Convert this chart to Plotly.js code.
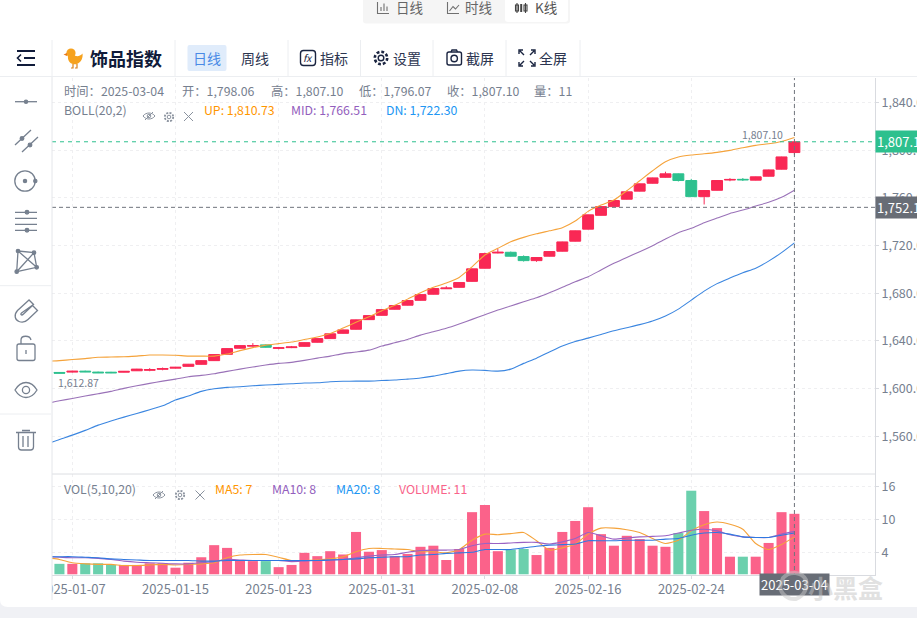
<!DOCTYPE html>
<html><head><meta charset="utf-8">
<script src="https://cdn.plot.ly/plotly-3.0.1.min.js"></script>
<style>
html,body{margin:0;padding:0;background:#fff;overflow:hidden;width:917px;height:618px}
#c{position:absolute;left:0;top:0;width:917px;height:618px}
#o{position:absolute;left:0;top:0;pointer-events:none}
#o text{font-family:"Noto Sans CJK SC","Noto Sans",sans-serif}
</style></head><body>
<div id="c"></div>
<svg id="o" width="917" height="618" viewBox="0 0 917 618" xmlns="http://www.w3.org/2000/svg">
  <!-- left toolbar background clips the first date label -->
  <rect x="0" y="77" width="52" height="531" fill="#fff"/>
  <line x1="52" y1="77" x2="52" y2="600" stroke="#e4e6ea"/>
  <!-- page bottom -->
  <path d="M0 600 Q0 607 8 607 L917 607 L917 618 L0 618 Z" fill="#f0f1f5"/>
  <!-- top switch -->
  <rect x="363" y="-4" width="207" height="27.5" rx="3" fill="#f5f5f5"/>
  <rect x="505" y="-4" width="63" height="26" rx="3" fill="#fff"/>
  <g fill="none" stroke="#707070" stroke-width="1.1">
    <path d="M377.5 2V13.5H389M381 11V7M384 11V3.5M387 11V6.5"/>
    <path d="M447.5 2V13.5H459M449.5 11L453 6.5L455.5 9L459 5"/>
    <path d="M517 3V13M525.5 3V13" stroke="#444"/><rect x="515.5" y="5" width="3" height="6" stroke="#444"/><rect x="524" y="5" width="3" height="6" stroke="#444"/>
    <path d="M521.2 4V12" stroke="#444" stroke-width="2"/>
  </g>
  <g font-size="13.5" dominant-baseline="central" fill="#666">
    <text x="396" y="7">日线</text><text x="465" y="7">时线</text><text x="535" y="7" fill="#555">K线</text>
  </g>
  <!-- main toolbar -->
  <line x1="0" y1="76.5" x2="917" y2="76.5" stroke="#eceef1"/>
  <g stroke="#eceef1"><line x1="52" y1="40" x2="52" y2="76"/><line x1="175" y1="40" x2="175" y2="76"/><line x1="288" y1="40" x2="288" y2="76"/><line x1="360.5" y1="40" x2="360.5" y2="76"/><line x1="433" y1="40" x2="433" y2="76"/><line x1="506" y1="40" x2="506" y2="76"/><line x1="580" y1="40" x2="580" y2="76"/></g>
  <g stroke="#101b3a" stroke-width="2" fill="none"><path d="M17 51H35M24 58H35M17 65H35"/><path d="M21 54.5L17.5 58L21 61.5" stroke-width="1.6"/></g>
  <!-- duck -->
  <g>
    <circle cx="71" cy="53" r="4.6" fill="#f6a21e"/>
    <path d="M67 53L63.5 54.5L67 56Z" fill="#e8791a"/>
    <path d="M68 56C67 63 74 66 78 63.5C82 61 83 57 82.5 53.5C80 56.5 76 57 74.5 55Z" fill="#f6a21e"/>
    <path d="M73 64V68H71M77 64V68H75" stroke="#d9801a" stroke-width="1.2" fill="none"/>
  </g>
  <text x="90" y="57.500" font-size="18" font-weight="700" fill="#101b3a" dominant-baseline="central">饰品指数</text>
  <rect x="187.5" y="45" width="39" height="26" rx="2" fill="#e0ecfb"/>
  <g font-size="14" dominant-baseline="central" fill="#2c3550">
    <text x="193" y="57.500" fill="#4a8ae6">日线</text><text x="241" y="57.500">周线</text>
    <text x="320" y="57.500">指标</text><text x="393" y="57.500">设置</text><text x="466" y="57.500">截屏</text><text x="539" y="57.500">全屏</text>
  </g>
  <g fill="none" stroke="#1a2440" stroke-width="1.4">
    <rect x="300.5" y="50.5" width="15" height="15" rx="3"/>
    <circle cx="381" cy="58" r="2.8"/><circle cx="381" cy="58" r="6.2" stroke-width="2.6" stroke-dasharray="2.8 2"/>
    <rect x="447" y="52" width="14.5" height="13" rx="2"/><circle cx="454.2" cy="58.5" r="3.2"/><path d="M451 52L452 50H456.5L457.5 52"/>
    <path d="M519 54V50H523M531 50H535V54M535 62V66H531M523 66H519V62M520 51L524 55M534 51L530 55M534 65L530 61M520 65L524 61"/>
  </g>
  <text x="303" y="61.5" font-size="10" font-style="italic" fill="#1a2440">fx</text>
  <!-- left tools -->
  <g fill="none" stroke="#76808f" stroke-width="1.3">
    <path d="M15 101.7H37"/><circle cx="26" cy="101.7" r="1.6" fill="#76808f"/>
    <path d="M15 145L31 130M22 152L38 137"/><circle cx="22" cy="138.5" r="1.8" fill="#76808f"/><circle cx="30" cy="145" r="1.8" fill="#76808f"/>
    <circle cx="25" cy="181" r="10.2"/><circle cx="25" cy="181" r="1.6" fill="#76808f"/><circle cx="35.3" cy="181" r="1.6" fill="#76808f"/>
    <path d="M15 212.3H37M15 218.3H37M15 224.3H37M15 230.3H37"/><circle cx="27" cy="212.3" r="1.8" fill="#76808f"/><circle cx="27" cy="230.3" r="1.8" fill="#76808f"/>
    <path d="M18 251L34 252.7L36.7 267.3L16.7 271.7ZM18 251L36.7 267.3M34 252.7L16.7 271.7"/>
    <circle cx="18" cy="251" r="1.7" fill="#76808f"/><circle cx="34" cy="252.7" r="1.7" fill="#76808f"/><circle cx="36.7" cy="267.3" r="1.7" fill="#76808f"/><circle cx="16.7" cy="271.7" r="1.7" fill="#76808f"/>
    <path d="M29 300L17.500 310.500C13.500 315 15 320 19 321.500C23 323 26 321.500 28 319.500L37.500 310.500L32.500 305.500L23.500 314C21.500 316 20 314.500 21.500 313L33.500 304.500Z"/>
    <rect x="17" y="344" width="18" height="16.5" rx="2"/><path d="M21 344V340C21 335 30 335 31 340M26 350V354"/>
    <path d="M15 390C21 380 31 380 37 390C31 400 21 400 15 390Z"/><circle cx="26" cy="390" r="3.6"/>
    <path d="M16 432.5H36M22 430.5H30M18.5 433V447C18.5 449 20 450 21.5 450H30.5C32 450 33.5 449 33.5 447V433M23 436V447M28 436V447"/>
  </g>
  <g stroke="#eceef1"><line x1="0" y1="285.7" x2="51" y2="285.7"/><line x1="0" y1="414" x2="51" y2="414"/></g>
  <!-- small legend icons -->
  <g fill="none" stroke="#8a929e" stroke-width="1">
    <g><path d="M143 116C146 112 152 112 155 116C152 120 146 120 143 116Z"/><circle cx="149" cy="116" r="1.8"/><path d="M145 120L153 112"/></g>
    <g><circle cx="169" cy="117" r="1.8"/><circle cx="169" cy="117" r="4.2" stroke-width="1.8" stroke-dasharray="2 1.3"/></g>
    <path d="M184 112L193 121M193 112L184 121"/>
    <g><path d="M153 495C156 491 162 491 165 495C162 499 156 499 153 495Z"/><circle cx="159" cy="495" r="1.8"/><path d="M155 499L163 491"/></g>
    <g><circle cx="180" cy="495" r="1.8"/><circle cx="180" cy="495" r="4.2" stroke-width="1.8" stroke-dasharray="2 1.3"/></g>
    <path d="M195.500 490.500L204.500 499.500M204.500 490.500L195.500 499.500"/>
  </g>
  <!-- watermark -->
  <g opacity=".5">
    <path d="M783 578C790 570 802 572 806 580C808 588 804 596 796 599C788 600 781 594 780 587Z" fill="none" stroke="#c8c8c8" stroke-width="4"/>
    <text x="808" y="587" font-size="25" font-weight="700" fill="#c4c4c4" dominant-baseline="central">小黑盒</text>
  </g>
</svg>
<script>
// ---- data ----
const firstDay = '2025-01-06';
const dayCount = 58;
const open = [1613.6,1613.9,1614.7,1613.9,1613.8,1613.8,1615.0,1615.4,1616.2,1617.2,1618.7,1620.4,1623.5,1628.8,1633.9,1635.6,1636.7,1633.8,1634.4,1635.5,1638.9,1642.0,1646.4,1649.8,1657.9,1661.5,1666.6,1670.0,1674.1,1679.2,1683.8,1685.0,1690.0,1701.0,1713.8,1714.4,1710.8,1707.4,1711.1,1715.3,1723.7,1733.8,1745.4,1752.7,1758.9,1765.7,1772.3,1777.3,1780.2,1774.6,1761.1,1766.4,1775.0,1775.6,1774.9,1778.2,1784.1,1798.06];
const close = [1613.0,1614.6,1614.1,1613.3,1613.3,1614.5,1616.4,1616.0,1616.9,1617.9,1620.5,1623.5,1628.6,1633.6,1636.1,1636.2,1634.7,1634.3,1635.0,1638.6,1642.0,1646.0,1649.3,1657.7,1661.3,1666.3,1669.7,1673.9,1678.9,1684.0,1684.4,1689.0,1700.5,1713.3,1714.4,1711.1,1707.4,1710.0,1715.0,1723.1,1732.4,1745.8,1752.7,1757.8,1765.1,1771.8,1776.8,1780.2,1774.6,1761.1,1766.2,1774.6,1775.5,1775.2,1777.7,1783.5,1794.4,1807.10];
const high = [1613.9,1615.0,1615.1,1614.3,1614.1,1614.7,1616.6,1617.2,1617.7,1618.1,1620.7,1623.7,1628.8,1633.8,1636.3,1638.2,1637.0,1635.0,1635.8,1638.8,1642.2,1646.2,1649.5,1657.9,1661.5,1666.5,1669.9,1674.1,1679.1,1684.2,1686.0,1689.2,1700.7,1714.0,1717.3,1715.0,1711.8,1710.2,1715.2,1723.3,1732.6,1746.0,1752.9,1758.0,1765.3,1772.0,1777.0,1782.0,1780.5,1776.0,1766.4,1775.0,1776.6,1776.7,1777.9,1783.7,1794.6,1807.10];
const low = [1612.87,1613.6,1613.9,1613.1,1613.0,1613.7,1614.8,1614.6,1615.4,1617.0,1618.5,1620.2,1623.3,1628.6,1633.7,1635.2,1634.4,1633.0,1634.0,1635.3,1638.7,1641.8,1646.2,1649.6,1657.7,1661.3,1666.4,1669.8,1673.9,1679.0,1683.6,1684.8,1689.8,1700.8,1713.5,1710.8,1706.6,1706.4,1710.9,1715.1,1723.5,1733.6,1745.2,1752.5,1758.7,1765.5,1772.1,1777.0,1773.8,1761.0,1754.5,1766.2,1774.0,1774.2,1774.7,1778.0,1783.9,1796.07];
// indicator lines start one day earlier, off the left edge of the chart
const bollUp = [1622.9,1623.5,1624.4,1625.2,1626.3,1626.5,1626.8,1627.3,1628.2,1628.2,1628.0,1627.3,1627.3,1627.3,1629.0,1631.9,1634.4,1636.5,1637.8,1639.1,1641.2,1643.3,1646.2,1650.8,1655.6,1660.3,1665.3,1669.9,1675.1,1680.4,1685.0,1688.6,1693.3,1702.2,1712.1,1717.7,1723.2,1726.9,1729.9,1732.4,1735.0,1740.6,1748.7,1754.0,1758.2,1766.0,1774.4,1782.8,1790.3,1794.3,1796.0,1797.0,1798.2,1799.9,1802.1,1804.1,1805.4,1807.4,1810.73];
const bollMid = [1587.5,1589.8,1591.8,1593.8,1595.7,1597.7,1600.2,1602.4,1604.4,1606.3,1608.0,1610.0,1611.1,1612.5,1614.5,1616.4,1618.1,1619.8,1621.2,1622.0,1623.7,1625.6,1627.3,1629.4,1630.7,1632.3,1635.7,1638.5,1641.3,1644.9,1647.7,1650.6,1654.2,1658.1,1662.0,1665.9,1669.3,1672.9,1676.2,1680.4,1685.0,1689.7,1693.8,1699.5,1705.1,1710.1,1714.8,1719.9,1725.5,1730.8,1734.5,1739.2,1743.1,1747.0,1749.8,1753.2,1756.3,1760.5,1766.51];
const bollDn = [1553.5,1557.4,1561.0,1565.0,1569.4,1572.8,1576.1,1579.2,1582.3,1585.6,1590.4,1593.8,1597.7,1599.9,1601.1,1601.6,1602.4,1603.0,1603.6,1604.1,1604.7,1604.9,1605.8,1606.2,1606.3,1606.3,1606.8,1607.2,1608.0,1608.9,1610.5,1612.6,1614.7,1615.6,1615.3,1614.7,1616.4,1621.2,1625.6,1630.7,1635.7,1639.5,1642.4,1645.4,1648.5,1651.1,1653.7,1656.7,1660.9,1666.7,1674.3,1681.8,1688.1,1692.8,1697.2,1701.1,1707.0,1714.1,1722.30];
const volume = [1.9,1.9,2.0,2.0,1.7,1.7,1.7,2.0,2.0,1.2,2.1,3.1,5.3,4.8,2.6,2.4,2.4,1.3,1.7,3.9,3.3,4.2,3.6,7.7,4.1,4.4,3.3,3.7,5.0,5.2,2.6,4.6,11.3,12.6,4.2,4.5,4.6,3.5,4.8,7.7,9.7,12.2,7.3,5.2,7.0,6.4,5.2,5.0,7.5,15.2,11.5,8.4,3.2,3.2,3.2,5.7,11.3,11];
const volUp = [0,1,0,0,0,1,1,1,1,1,1,1,1,1,1,1,0,1,1,1,1,1,1,1,1,1,1,1,1,1,1,1,1,1,1,0,0,1,1,1,1,1,1,1,1,1,1,1,0,0,1,1,1,0,1,1,1,1];
const ma5 = [3.0,2.7,2.1,1.9,1.8,1.8,1.6,1.6,1.7,1.8,1.7,1.8,1.9,2.1,3.0,3.5,3.6,3.6,3.1,2.5,2.5,2.6,2.8,3.2,4.1,4.7,4.7,4.6,4.5,4.1,4.1,3.9,4.5,6.2,7.3,7.2,7.4,7.6,6.1,4.4,4.8,5.5,7.3,8.4,8.4,8.1,7.6,6.5,5.6,6.2,7.9,9.0,9.5,9.1,8.2,5.6,4.5,5.4,6.8];
const ma10 = [3.2,3.1,3.0,3.0,2.9,2.7,2.4,2.2,2.1,2.0,1.9,1.9,2.1,2.3,2.7,2.6,2.5,2.5,2.5,2.3,2.4,2.5,2.6,2.7,3.0,3.3,3.5,3.6,4.0,4.3,4.4,4.4,4.5,5.2,5.6,5.6,5.7,5.8,5.8,5.5,5.9,6.5,7.6,7.0,6.4,6.6,6.8,6.9,7.0,7.5,8.0,8.2,7.9,7.2,6.8,6.7,6.7,7.3,7.8];
const ma20 = [3.2,3.2,3.2,3.1,3.0,2.8,2.7,2.6,2.5,2.5,2.5,2.5,2.4,2.4,2.5,2.5,2.5,2.5,2.5,2.5,2.5,2.5,2.6,2.7,2.8,3.0,3.1,3.2,3.2,3.5,3.6,3.8,3.9,4.0,4.5,4.5,4.5,4.8,5.1,5.3,5.4,5.5,6.1,6.1,6.1,6.2,6.2,6.2,6.4,6.5,7.1,7.5,7.6,7.3,6.8,6.7,6.7,7.1,7.5];
const priceTicks = [1560,1600,1640,1680,1720,1760,1800,1840];
const volTicks = [4,10,16];
const dateTicks = ['2025-01-07','2025-01-15','2025-01-23','2025-01-31','2025-02-08','2025-02-16','2025-02-24','2025-03-04'];
const dateTickLabels = ['2025-01-07','2025-01-15','2025-01-23','2025-01-31','2025-02-08','2025-02-16','2025-02-24',''];
const lastClose = 1807.10, crossPrice = 1752.1, crossDate = '2025-03-04';
const infoLine = [['时间：2025-03-04',64],['开：1,798.06',182],['高：1,807.10',271],['低：1,796.07',359],['收：1,807.10',447],['量：11',534]];
const bollLegend = [['UP: 1,810.73',204,'#FF9600'],['MID: 1,766.51',291,'#935EBD'],['DN: 1,722.30',386,'#2196F3']];
const volLegend = [['MA5: 7',215,'#FF9600'],['MA10: 8',272,'#935EBD'],['MA20: 8',336,'#2196F3'],['VOLUME: 11',399,'#f9638a']];

// ---- page geometry ----
const W=917,H=618, pL=52,pR=875, mainT=78,mainB=474,volB=575;
const px=x=>x/W, py=y=>1-y/H;
const FONT='"Noto Sans CJK SC","Noto Sans",sans-serif', GRAY='#76808f';
const dayList=[]; { const d=new Date(firstDay+'T00:00:00Z'); for(let i=-1;i<dayCount;i++){dayList.push(new Date(d.getTime()+i*864e5).toISOString().slice(0,10));} }
const lineDates=dayList, dates=dayList.slice(1);
const RED='#f92855',GREEN='#2dc08e';

const lineT=(y,color,axis)=>({type:'scatter',mode:'lines',x:lineDates,y,yaxis:axis,xaxis:'x',line:{color,width:1.1,shape:'spline',smoothing:.6},hoverinfo:'skip',showlegend:false});
const traces=[
 {type:'candlestick',x:dates,open,high,low,close,xaxis:'x',yaxis:'y',showlegend:false,whiskerwidth:0,
  increasing:{line:{color:RED,width:1},fillcolor:RED},decreasing:{line:{color:GREEN,width:1},fillcolor:GREEN}},
 lineT(bollUp,'#f5a33b','y'),lineT(bollMid,'#9a72b8','y'),lineT(bollDn,'#3b86e0','y'),
 {type:'bar',x:dates,y:volume,xaxis:'x',yaxis:'y2',width:volume.map(()=>0.78*864e5),showlegend:false,hoverinfo:'skip',
  marker:{color:volUp.map(u=>u?'#fb628a':'#6bd0ad'),line:{width:0}}},
 lineT(ma5,'#f5a33b','y2'),lineT(ma10,'#9a62c4','y2'),lineT(ma20,'#2f78e0','y2')
];

const ann=(text,x,y,color,size)=>({text,x:px(x),y:py(y),xref:'paper',yref:'paper',xanchor:'left',yanchor:'middle',showarrow:false,align:'left',borderpad:0,borderwidth:0,font:{family:FONT,size:size||12.3,color:color||GRAY}});
const annotations=[
 ...infoLine.map(a=>ann(a[0],a[1],91)),
 ann('BOLL(20,2)',64,110.5),
 ...bollLegend.map(a=>ann(a[0],a[1],110.5,a[2])),
 ann('VOL(5,10,20)',64,489),
 ...volLegend.map(a=>ann(a[0],a[1],489,a[2])),
 {text:'1,807.10',x:'2025-03-04',y:lastClose,xref:'x',yref:'y',xanchor:'right',yanchor:'bottom',xshift:-10,yshift:-1,showarrow:false,borderpad:0,font:{family:FONT,size:10.5,color:GRAY}},
 {text:'1,612.87',x:'2025-01-06',y:low[0],xref:'x',yref:'y',xanchor:'left',yanchor:'top',xshift:-2,yshift:-1,showarrow:false,borderpad:0,font:{family:FONT,size:10.5,color:GRAY}},
 {text:'1,807.10',x:px(pR),y:lastClose,xref:'paper',yref:'y',xanchor:'left',yanchor:'middle',showarrow:false,align:'left',bgcolor:GREEN,borderpad:1,font:{family:FONT,size:13,color:'#fff'}},
 {text:'1,752.10',x:px(pR),y:crossPrice,xref:'paper',yref:'y',xanchor:'left',yanchor:'middle',showarrow:false,align:'left',bgcolor:'#686d76',borderpad:1,font:{family:FONT,size:13,color:'#fff'}},
 {text:crossDate,x:crossDate,y:py(584.5),xref:'x',yref:'paper',xanchor:'center',yanchor:'middle',showarrow:false,bgcolor:'#686d76',borderpad:1,font:{family:FONT,size:13,color:'#fff'}}
];
const shapes=[
 {type:'line',xref:'paper',yref:'paper',x0:px(pL),x1:px(pR),y0:py(mainB),y1:py(mainB),line:{color:'#dcdee2',width:1}},
 {type:'line',xref:'paper',yref:'y',x0:px(pL),x1:px(pR),y0:lastClose,y1:lastClose,line:{color:GREEN,width:1,dash:'4px,4px'}},
 {type:'line',xref:'paper',yref:'y',x0:px(pL),x1:px(pR),y0:crossPrice,y1:crossPrice,line:{color:'#6f747c',width:1,dash:'4px,3px'}},
 {type:'line',xref:'x',yref:'paper',x0:crossDate,x1:crossDate,y0:py(volB+2),y1:py(mainT),line:{color:'#6f747c',width:1,dash:'4px,3px'}}
];
const layout={
 width:W,height:H,margin:{l:0,r:0,t:0,b:0},paper_bgcolor:'#fff',plot_bgcolor:'#fff',showlegend:false,
 hovermode:false,dragmode:false,barmode:'overlay',boxgap:0.08,boxgroupgap:0.08,
 xaxis:{type:'date',domain:[px(pL),px(pR)],anchor:'y2',range:['2025-01-05 10:09','2025-03-10 06:00'],rangeslider:{visible:false},
  tickmode:'array',tickvals:dateTicks,ticktext:dateTickLabels,ticks:'outside',ticklen:3,tickcolor:'#d9dbe0',showline:true,linecolor:'#d9dbe0',
  showgrid:true,gridcolor:'#efeff1',griddash:'dot',zeroline:false,tickfont:{family:FONT,size:13,color:GRAY},ticklabelstandoff:-1},
 yaxis:{domain:[py(mainB),py(mainT)],anchor:'x',side:'right',range:[1528.4,1860.6],tickmode:'array',tickvals:priceTicks,tickformat:',.2f',ticks:'outside',ticklen:3,tickcolor:'#d9dbe0',
  showline:true,linecolor:'#d9dbe0',showgrid:true,gridcolor:'#efeff1',griddash:'dot',zeroline:false,tickfont:{family:FONT,size:12.5,color:GRAY},ticklabelstandoff:0},
 yaxis2:{domain:[py(volB),py(mainB)],anchor:'x',side:'right',range:[-0.13,18.24],tickmode:'array',tickvals:volTicks,ticks:'outside',ticklen:3,tickcolor:'#d9dbe0',
  showline:true,linecolor:'#d9dbe0',showgrid:true,gridcolor:'#efeff1',griddash:'dot',zeroline:false,tickfont:{family:FONT,size:12.5,color:GRAY},ticklabelstandoff:0},
 annotations,shapes
};
Plotly.newPlot('c',traces,layout,{displayModeBar:false,staticPlot:true});
</script>
</body></html>
